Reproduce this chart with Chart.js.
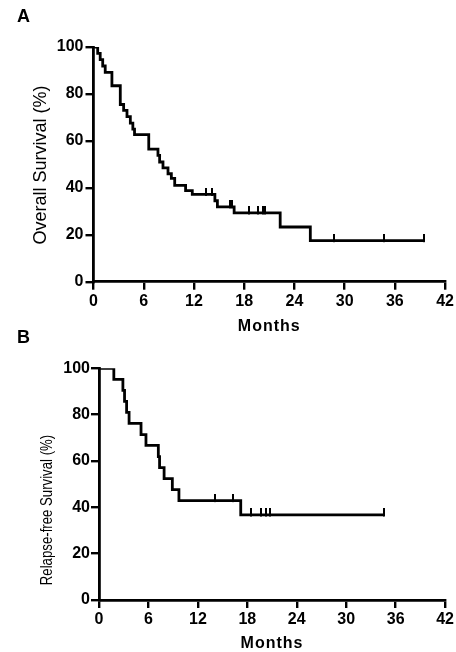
<!DOCTYPE html>
<html>
<head>
<meta charset="utf-8">
<script src="https://cdn.jsdelivr.net/npm/chart.js@4.4.0/dist/chart.umd.min.js"></script>
<style>
  html, body { margin: 0; padding: 0; background: #fff; }
  body { width: 456px; height: 652px; position: relative; overflow: hidden; }
  .panel { position: absolute; left: 0; width: 456px; }
  #pa { top: 0; height: 340px; }
  #pb { top: 325px; height: 327px; }
</style>
</head>
<body>
<div class="panel" id="pa"><canvas id="ca"></canvas></div>
<div class="panel" id="pb"><canvas id="cb"></canvas></div>
<script>
// ---- Data ----
const monthTicks = [0, 6, 12, 18, 24, 30, 36, 42];
const pctTicks = [0, 20, 40, 60, 80, 100];

// Panel A: Overall survival (Kaplan-Meier steps)
const osTime = [0, 0.5, 0.8, 1.1, 1.4, 2.2, 3.2, 3.6, 4.0, 4.4, 4.7, 4.9, 6.6, 7.7, 7.9, 8.3, 8.9, 9.3, 9.7, 11.0, 11.8, 14.5, 14.8, 16.8, 22.3, 25.9, 39.5];
const osSurv = [100, 97.3, 94.6, 91.9, 89.2, 83.5, 75.5, 73.0, 70.3, 67.6, 65.0, 62.7, 56.5, 53.8, 51.0, 48.5, 46.0, 44.0, 41.0, 38.8, 37.2, 34.5, 31.9, 29.3, 23.3, 17.5, 17.5];
const osCensorTime = [13.4, 14.1, 16.3, 16.6, 18.6, 19.6, 20.2, 20.5, 28.75, 34.7, 39.5];
const osCensorSurv = [37.2, 37.2, 31.9, 31.9, 29.3, 29.3, 29.3, 29.3, 17.5, 17.5, 17.5];

// Panel B: Relapse-free survival
const rfsTime = [0, 1.8, 2.9, 3.1, 3.35, 3.65, 5.1, 5.7, 7.2, 7.35, 7.9, 8.9, 9.7, 17.2, 34.6];
const rfsSurv = [100, 95.2, 90.5, 85.7, 81.0, 76.2, 71.4, 66.7, 61.9, 57.1, 52.4, 47.6, 42.9, 36.7, 36.7];
const rfsCensorTime = [14.1, 16.3, 18.5, 19.6, 20.3, 20.7, 34.6];
const rfsCensorSurv = [42.9, 42.9, 36.7, 36.7, 36.7, 36.7, 36.7];

// ---- helpers ----
const FONT = '"Liberation Sans", Arial, Helvetica, sans-serif';
function pts(xs, ys) { return xs.map((x, i) => ({ x: x, y: ys[i] })); }

// censor tick mark: a short vertical bar sitting on the line
const censorMark = document.createElement('canvas');
censorMark.width = 2; censorMark.height = 13;
(function () {
  const c = censorMark.getContext('2d');
  c.fillStyle = '#000';
  c.fillRect(0, 0, 2, 8);
})();

const titlesPlugin = {
  id: 'titles',
  afterDraw(chart, args, o) {
    const ctx = chart.ctx;
    ctx.save();
    ctx.fillStyle = '#000';
    // panel letter
    ctx.font = 'bold 18px ' + FONT;
    ctx.textAlign = 'left';
    ctx.textBaseline = 'alphabetic';
    ctx.fillText(o.letter, o.letterX, o.letterY);
    // x title
    ctx.font = 'bold 16px ' + FONT;
    ctx.textAlign = 'center';
    try { ctx.letterSpacing = '1px'; } catch (e) {}
    const ca = chart.chartArea;
    ctx.fillText(o.xTitle, (ca.left + ca.right) / 2, o.xTitleY);
    try { ctx.letterSpacing = '0px'; } catch (e) {}
    // y title (rotated)
    ctx.translate(o.yTitleX, o.yTitleY);
    ctx.rotate(-Math.PI / 2);
    ctx.scale(o.yTitleScale, 1);
    ctx.font = o.yTitleSize + 'px ' + FONT;
    ctx.textAlign = 'center';
    ctx.textBaseline = 'middle';
    ctx.fillText(o.yTitle, 0, 0);
    ctx.restore();
  }
};

function makeChart(id, line, censor, cfg) {
  return new Chart(document.getElementById(id), {
    type: 'scatter',
    data: {
      datasets: [
        {
          data: line,
          showLine: true,
          stepped: 'before',
          borderColor: '#000',
          borderWidth: 2.8,
          pointRadius: 0,
          fill: false
        },
        {
          data: censor,
          showLine: false,
          pointStyle: censorMark,
          pointRadius: 4,
          pointHoverRadius: 4
        }
      ]
    },
    plugins: [titlesPlugin],
    options: {
      responsive: true,
      maintainAspectRatio: false,
      animation: false,
      events: [],
      layout: { padding: { left: 0, top: cfg.top, right: cfg.right, bottom: 0 } },
      plugins: {
        legend: { display: false },
        tooltip: { enabled: false },
        titles: cfg.titles
      },
      scales: {
        x: {
          type: 'linear',
          min: 0, max: 42,
          afterBuildTicks: s => { s.ticks = monthTicks.map(v => ({ value: v })); },
          afterFit: s => { s.height = cfg.xHeight; },
          ticks: {
            color: '#000',
            font: { family: FONT, size: 16, weight: 'bold' },
            padding: cfg.xPad,
            maxRotation: 0,
            autoSkip: false
          },
          grid: { display: true, drawOnChartArea: false, drawTicks: true, tickLength: 8, color: '#000', lineWidth: 2.4 },
          border: { display: true, color: '#000', width: 2.8 }
        },
        y: {
          type: 'linear',
          min: 0, max: 100,
          afterBuildTicks: s => { s.ticks = pctTicks.map(v => ({ value: v })); },
          afterFit: s => { s.width = cfg.yWidth; },
          ticks: {
            color: '#000',
            font: { family: FONT, size: 16, weight: 'bold' },
            padding: cfg.yPad,
            autoSkip: false
          },
          grid: { display: true, drawOnChartArea: false, drawTicks: true, tickLength: 8, color: '#000', lineWidth: 2.4 },
          border: { display: true, color: '#000', width: 2.8 }
        }
      }
    }
  });
}

makeChart('ca', pts(osTime, osSurv), pts(osCensorTime, osCensorSurv), {
  top: 47, right: 9.3, xHeight: 340 - 281.7, yWidth: 93.5, xPad: 2, yPad: 2,
  titles: {
    letter: 'A', letterX: 17, letterY: 22,
    xTitle: 'Months', xTitleY: 331,
    yTitle: 'Overall Survival (%)', yTitleX: 41, yTitleY: 165, yTitleSize: 18, yTitleScale: 1
  }
});

makeChart('cb', pts(rfsTime, rfsSurv), pts(rfsCensorTime, rfsCensorSurv), {
  top: 43.3, right: 8, xHeight: 327 - 275, yWidth: 99, xPad: 2, yPad: 1,
  titles: {
    letter: 'B', letterX: 17, letterY: 18,
    xTitle: 'Months', xTitleY: 323,
    yTitle: 'Relapse-free Survival (%)', yTitleX: 47.5, yTitleY: 185, yTitleSize: 16.5, yTitleScale: 0.8
  }
});
</script>
</body>
</html>
